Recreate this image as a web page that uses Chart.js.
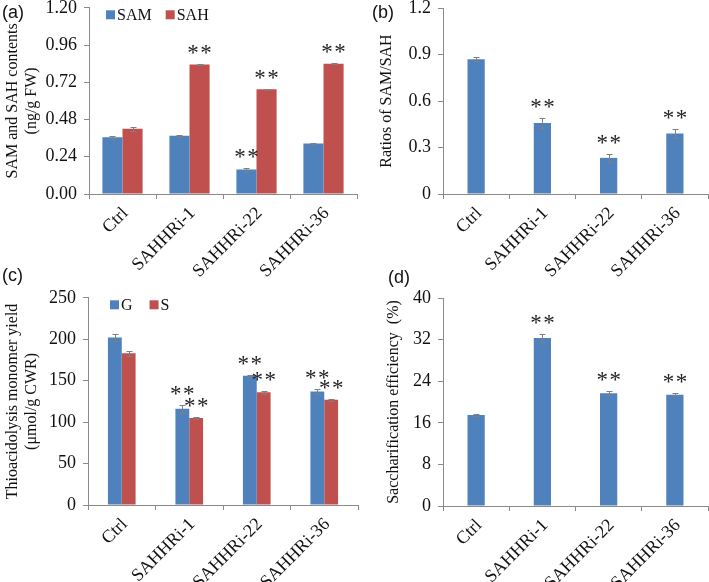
<!DOCTYPE html>
<html>
<head>
<meta charset="utf-8">
<script src="https://cdn.jsdelivr.net/npm/chart.js@4.4.0/dist/chart.umd.min.js"></script>
<style>
  html, body { margin: 0; padding: 0; background: #fff; }
  #wrap { position: relative; width: 709px; height: 582px; overflow: hidden; }
  canvas { position: absolute; }
  .tag { position: absolute; font-family: "Liberation Sans", Arial, sans-serif; font-size: 18px; line-height: 18px; color: #111; }
</style>
</head>
<body>
<div id="wrap">
  <canvas id="chartA" width="362" height="300" style="left:0;top:-10px;width:362px;height:300px"></canvas>
  <canvas id="chartB" width="354" height="300" style="left:355px;top:-10px;width:354px;height:300px"></canvas>
  <canvas id="chartC" width="362" height="302" style="left:0;top:280px;width:362px;height:302px"></canvas>
  <canvas id="chartD" width="354" height="302" style="left:355px;top:280px;width:354px;height:302px"></canvas>
  <div class="tag" style="left:2px;top:3px">(a)</div>
  <div class="tag" style="left:372px;top:3px">(b)</div>
  <div class="tag" style="left:2px;top:266px">(c)</div>
  <div class="tag" style="left:388px;top:268px">(d)</div>
</div>
<script>
var categories = ["Ctrl", "SAHHRi-1", "SAHHRi-22", "SAHHRi-36"];

// (a) SAM and SAH contents
var samValues = [0.365, 0.375, 0.158, 0.325];
var samErrors = [0.010, 0.005, 0.012, 0.004];
var samStars = [false, false, true, false];
var sahValues = [0.42, 0.835, 0.675, 0.84];
var sahErrors = [0.012, 0.003, 0.004, 0.004];
var sahStars = [false, true, true, true];
var ticksA = [0, 0.24, 0.48, 0.72, 0.96, 1.2];

// (b) SAM/SAH ratio
var ratioValues = [0.87, 0.458, 0.233, 0.39];
var ratioErrors = [0.012, 0.03, 0.027, 0.028];
var ratioStars = [false, true, true, true];
var ticksB = [0, 0.3, 0.6, 0.9, 1.2];

// (c) thioacidolysis monomers
var gValues = [202, 116, 156, 137];
var gErrors = [4, 5, 1, 3];
var gStars = [false, true, true, true];
var sValues = [183, 105, 136, 127];
var sErrors = [3, 1, 1.5, 1];
var sStars = [false, true, true, true];
var ticksC = [0, 50, 100, 150, 200, 250];

// (d) saccharification
var saccValues = [17.5, 32.3, 21.7, 21.4];
var saccErrors = [0.25, 0.7, 0.35, 0.25];
var saccStars = [false, true, true, true];
var ticksD = [0, 8, 16, 24, 32, 40];

var BLUE = '#4F81BD';
var RED = '#C0504D';
var axisColor = '#8a8a8a';
var textColor = '#111';
var serif = '"Liberation Serif", "Times New Roman", serif';

// error bars + significance stars
var errorBarPlugin = {
    id: 'errorBars',
    afterDatasetsDraw: function(chart) {
        var ctx = chart.ctx;
        var yScale = chart.scales.y;
        chart.data.datasets.forEach(function(ds, i) {
            var meta = chart.getDatasetMeta(i);
            meta.data.forEach(function(bar, j) {
                var v = ds.data[j], e = ds.errors[j];
                var x = Math.round(bar.x) + 0.5;
                var yTop = Math.round(yScale.getPixelForValue(v + e)) + 0.5;
                var yBot = Math.round(yScale.getPixelForValue(v - e)) + 0.5;
                ctx.save();
                ctx.strokeStyle = '#7f7f7f';
                ctx.lineWidth = 1;
                ctx.beginPath();
                ctx.moveTo(x, yTop); ctx.lineTo(x, yBot);
                ctx.moveTo(x - 3, yTop); ctx.lineTo(x + 3, yTop);
                ctx.moveTo(x - 3, yBot); ctx.lineTo(x + 3, yBot);
                ctx.stroke();
                if (ds.stars[j]) {
                    // two asterisks, slightly spread apart
                    ctx.fillStyle = '#222';
                    ctx.font = '23px ' + serif;
                    ctx.textAlign = 'center';
                    ctx.textBaseline = 'alphabetic';
                    ctx.fillText('*', bar.x - 6.5, yTop - 5);
                    ctx.fillText('*', bar.x + 6.5, yTop - 5);
                }
                ctx.restore();
            });
        });
    }
};

// legend drawn inside the plot area
var insideLegendPlugin = {
    id: 'insideLegend',
    afterDraw: function(chart) {
        var o = chart.options.plugins.insideLegend;
        if (!o || !o.show) return;
        var ctx = chart.ctx;
        var x = chart.chartArea.left + o.x;
        var y = chart.chartArea.top + o.y;
        ctx.save();
        ctx.font = '16px ' + serif;
        ctx.textBaseline = 'middle';
        ctx.textAlign = 'left';
        chart.data.datasets.forEach(function(ds) {
            ctx.fillStyle = ds.backgroundColor;
            ctx.fillRect(x, y - 4.5, 9, 9);
            ctx.fillStyle = textColor;
            ctx.fillText(ds.label, x + 11, y + 1);
            x += 11 + ctx.measureText(ds.label).width + o.gap;
        });
        ctx.restore();
    }
};

function barSet(label, color, values, errors, stars, catPct) {
    return {
        label: label,
        data: values,
        errors: errors,
        stars: stars,
        backgroundColor: color,
        borderWidth: 0,
        barPercentage: 1,
        categoryPercentage: catPct
    };
}

function makeChart(id, datasets, cfg) {
    var ctx = document.getElementById(id).getContext('2d');
    return new Chart(ctx, {
        type: 'bar',
        data: { labels: categories, datasets: datasets },
        plugins: [errorBarPlugin, insideLegendPlugin],
        options: {
            responsive: false,
            animation: false,
            layout: { padding: cfg.padding },
            plugins: {
                legend: { display: false },
                tooltip: { enabled: false },
                insideLegend: cfg.legend || { show: false }
            },
            scales: {
                x: {
                    grid: { display: true, drawOnChartArea: false, drawTicks: true, tickLength: 5, color: axisColor, offset: true },
                    border: { color: axisColor, width: 1 },
                    ticks: {
                        font: { family: serif, size: 18 },
                        color: textColor,
                        minRotation: 45,
                        maxRotation: 45,
                        autoSkip: false,
                        padding: 4,
                        labelOffset: 3
                    },
                    afterFit: function(s) { s.height = cfg.xHeight; }
                },
                y: {
                    min: 0,
                    max: cfg.ticks[cfg.ticks.length - 1],
                    grid: { drawOnChartArea: false, tickLength: 5, color: axisColor },
                    border: { color: axisColor, width: 1 },
                    ticks: {
                        font: { family: serif, size: 18 },
                        color: textColor,
                        padding: 7,
                        callback: function(v) { return cfg.fmt(v); }
                    },
                    title: {
                        display: true,
                        text: cfg.title,
                        font: { family: serif, size: 16 },
                        color: textColor,
                        padding: { top: cfg.titlePad, bottom: 0 }
                    },
                    afterBuildTicks: function(s) {
                        s.ticks = cfg.ticks.map(function(v) { return { value: v }; });
                    },
                    afterFit: function(s) { s.width = cfg.yWidth; }
                }
            }
        }
    });
}

makeChart('chartA', [
    barSet('SAM', BLUE, samValues, samErrors, samStars, 0.6),
    barSet('SAH', RED, sahValues, sahErrors, sahStars, 0.6)
], {
    padding: { top: 17, right: 5, bottom: 0, left: 0 },
    yWidth: 89, xHeight: 96,
    ticks: ticksA,
    fmt: function(v) { return v.toFixed(2); },
    title: ['SAM and SAH contents', '(ng/g FW)'],
    titlePad: 3,
    legend: { show: true, x: 17, y: 7, gap: 14 }
});

makeChart('chartB', [
    barSet('SAM/SAH', BLUE, ratioValues, ratioErrors, ratioStars, 0.26)
], {
    padding: { top: 18, right: 1, bottom: 0, left: 0 },
    yWidth: 88, xHeight: 96,
    ticks: ticksB,
    fmt: function(v) { return v === 0 ? '0' : v.toFixed(1); },
    title: 'Ratios of SAM/SAH',
    titlePad: 22
});

makeChart('chartC', [
    barSet('G', BLUE, gValues, gErrors, gStars, 0.41),
    barSet('S', RED, sValues, sErrors, sStars, 0.41)
], {
    padding: { top: 17, right: 4, bottom: 0, left: 0 },
    yWidth: 88, xHeight: 77,
    ticks: ticksC,
    fmt: function(v) { return String(v); },
    title: ['Thioacidolysis monomer yield', '(\u03bcmol/g CWR)'],
    titlePad: 3,
    legend: { show: true, x: 22, y: 7, gap: 17 }
});

makeChart('chartD', [
    barSet('Saccharification', BLUE, saccValues, saccErrors, saccStars, 0.26)
], {
    padding: { top: 18, right: 1, bottom: 0, left: 0 },
    yWidth: 88, xHeight: 76,
    ticks: ticksD,
    fmt: function(v) { return String(v); },
    title: 'Saccharification efficiency  (%)',
    titlePad: 29
});
</script>
</body>
</html>
